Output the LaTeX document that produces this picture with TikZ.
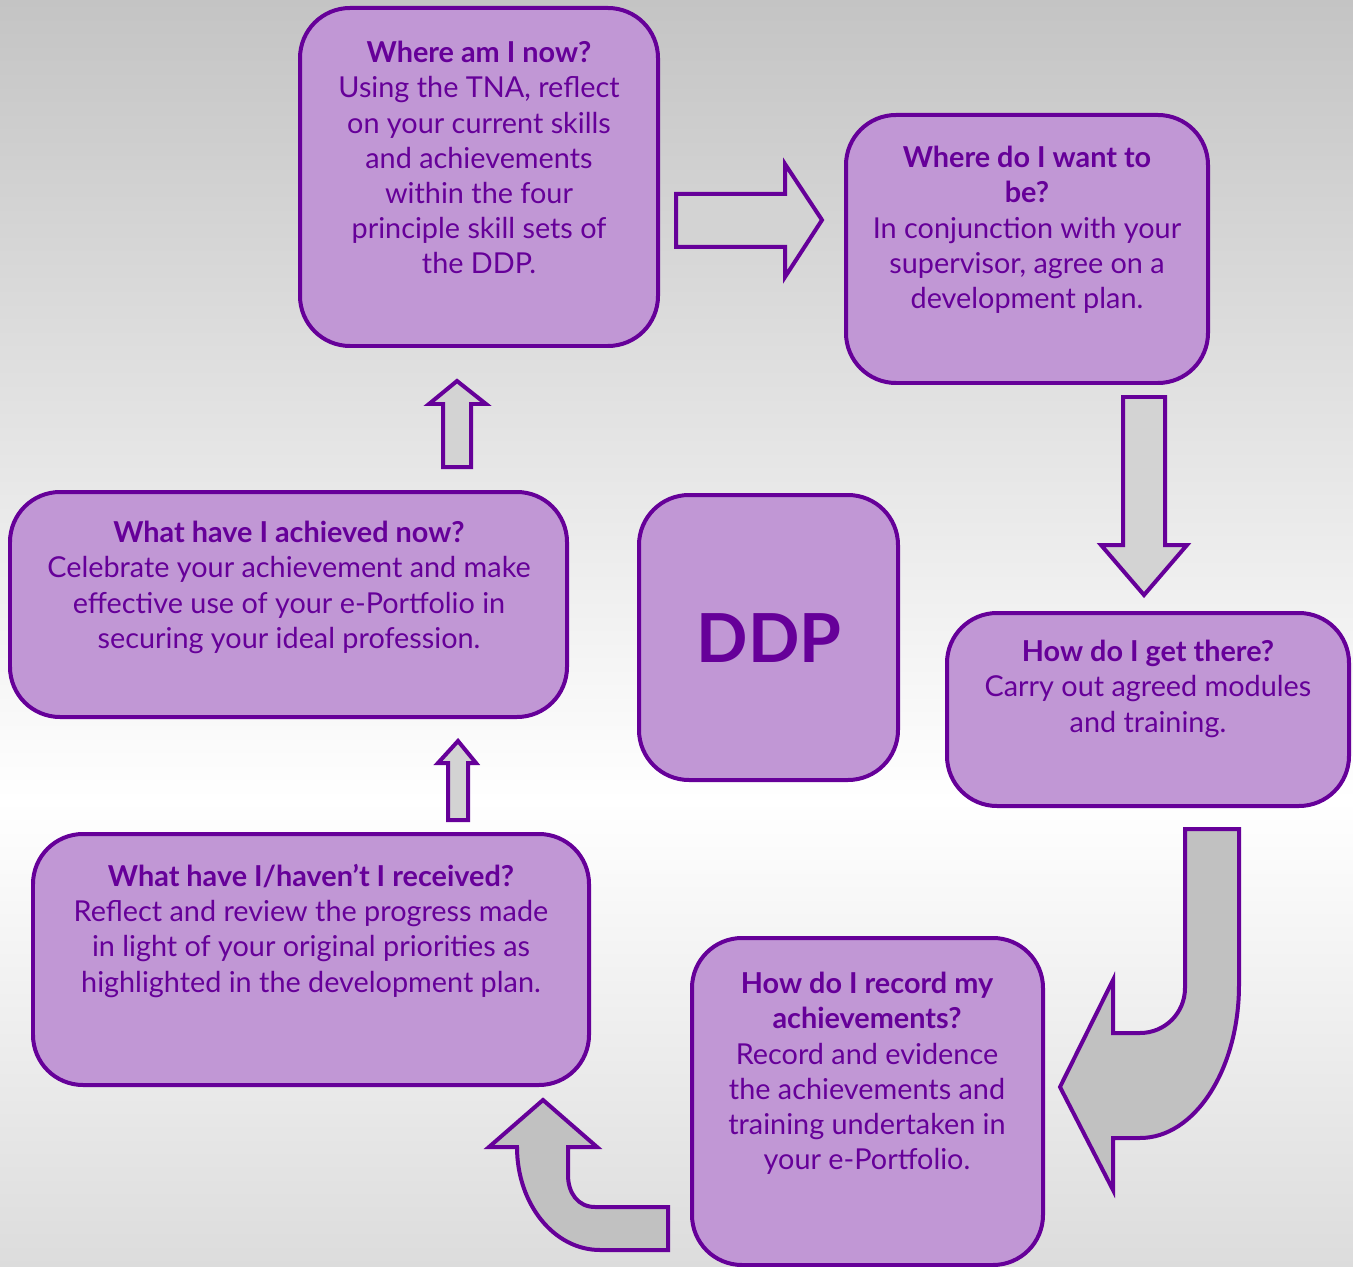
\documentclass[tikz,border=0pt]{standalone}
\usepackage{fontspec}
\setmainfont{Lato}
\definecolor{boxfill}{RGB}{193,151,213}
\definecolor{pdark}{RGB}{102,0,153}
\definecolor{arrlight}{RGB}{211,211,211}
\definecolor{arrdark}{RGB}{193,193,193}
\definecolor{bgtop}{RGB}{196,196,196}
\definecolor{bgbot}{RGB}{220,220,220}
\tikzset{
  stepbox/.style={draw=pdark, line width=0.08cm, fill=boxfill, rounded corners=1cm, inner sep=0pt},
  txt/.style={text=pdark, align=center, font=\fontsize{16.4}{20}\selectfont, inner sep=0pt, anchor=north},
  blockarrow/.style={draw=pdark, line width=0.08cm, line join=miter},
}
\begin{document}
\begin{tikzpicture}[x=0.02cm, y=-0.02cm]
\useasboundingbox (0,0) rectangle (1353,1267);
\clip (0,0) rectangle (1353,1267);
\shade[top color=bgtop, bottom color=white] (0,0) rectangle (1353,800);
\shade[top color=white, bottom color=bgbot] (0,800) rectangle (1353,1267);

% boxes
\node[stepbox, minimum width=358*0.02cm, minimum height=338*0.02cm] (b1) at (479,177) {};
\node[stepbox, minimum width=362*0.02cm, minimum height=268*0.02cm] (b2) at (1027,249) {};
\node[stepbox, minimum width=402*0.02cm, minimum height=193*0.02cm] (b3) at (1148,709.5) {};
\node[stepbox, minimum width=351*0.02cm, minimum height=327*0.02cm] (b4) at (867.5,1101.5) {};
\node[stepbox, minimum width=556*0.02cm, minimum height=251*0.02cm] (b5) at (311,959.5) {};
\node[stepbox, minimum width=557*0.02cm, minimum height=225*0.02cm] (b6) at (288.5,604.5) {};
\node[stepbox, minimum width=259*0.02cm, minimum height=285*0.02cm] (b7) at (768.5,637.5) {};

% texts
\node[txt] (t1) at (479,41) {\textbf{Where am I now?}\\Using the TNA, reflect\\on your current skills\\and achievements\\within the four\\principle skill sets of\\the DDP.};
\node[txt] (t2) at (1027,146) {\textbf{Where do I want to}\\\textbf{be?}\\In conjunction with your\\supervisor, agree on a\\development plan.};
\node[txt] (t3) at (1148,640) {\textbf{How do I get there?}\\Carry out agreed modules\\and training.};
\node[txt] (t4) at (867,972) {\textbf{How do I record my}\\\textbf{achievements?}\\Record and evidence\\the achievements and\\training undertaken in\\your e-Portfolio.};
\node[txt] (t5) at (311,864) {\textbf{What have I/haven't I received?}\\Reflect and review the progress made\\in light of your original priorities as\\highlighted in the development plan.};
\node[txt] (t6) at (289,521) {\textbf{What have I achieved now?}\\Celebrate your achievement and make\\effective use of your e-Portfolio in\\securing your ideal profession.};
\node[text=pdark, font=\fontsize{38.5}{40}\selectfont\bfseries, inner sep=0pt] (t7) at (769,638) {DDP};

% arrows
\draw[blockarrow, fill=arrlight] (676,194) -- (785,194) -- (785,164) -- (822,220) -- (785,277) -- (785,247) -- (676,247) -- cycle;
\draw[blockarrow, fill=arrlight] (1123,397) -- (1165,397) -- (1165,545) -- (1187,545) -- (1144,595) -- (1101,545) -- (1123,545) -- cycle;
\draw[blockarrow, fill=arrlight] (443,467) -- (443,404) -- (429,404) -- (457,381) -- (486,404) -- (471,404) -- (471,467) -- cycle;
\draw[blockarrow, fill=arrlight] (448,820) -- (448,763) -- (438,763) -- (458,741) -- (476,763) -- (468,763) -- (468,820) -- cycle;
\draw[blockarrow, fill=arrdark] (1185,829) -- (1239,829) -- (1239,985)
  .. controls (1239,1069) and (1195,1138) .. (1140,1138) -- (1113,1138) -- (1113,1190) -- (1060,1087) -- (1113,980) -- (1113,1033) -- (1140,1033)
  .. controls (1165,1033) and (1185,1013) .. (1185,988) -- cycle;
\draw[blockarrow, fill=arrdark] (668,1207) -- (668,1250) -- (600,1250)
  .. controls (554,1250) and (517,1204) .. (517,1147) -- (489,1147) -- (543,1100) -- (597,1147) -- (568,1147) -- (568,1175)
  .. controls (568,1193) and (578,1207) .. (595,1207) -- cycle;
\end{tikzpicture}
\end{document}
